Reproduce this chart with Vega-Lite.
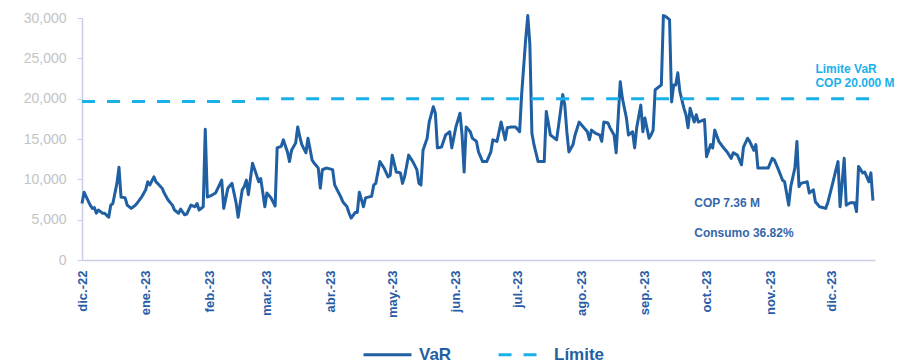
{
  "$schema": "https://vega.github.io/schema/vega-lite/v6.json",
  "width": 793,
  "height": 242,
  "autosize": "none",
  "padding": {"left": 82, "top": 18, "right": 41, "bottom": 104},
  "background": "white",
  "config": {"view": {"stroke": null}, "font": "Liberation Sans"},
  "datasets": {
    "serie": [
      {"fecha":"2022-12-01","valor":7000,"serie":"VaR"},
      {"fecha":"2022-12-02","valor":8400,"serie":"VaR"},
      {"fecha":"2022-12-05","valor":6800,"serie":"VaR"},
      {"fecha":"2022-12-06","valor":6400,"serie":"VaR"},
      {"fecha":"2022-12-07","valor":6500,"serie":"VaR"},
      {"fecha":"2022-12-08","valor":5800,"serie":"VaR"},
      {"fecha":"2022-12-09","valor":6200,"serie":"VaR"},
      {"fecha":"2022-12-11","valor":5800,"serie":"VaR"},
      {"fecha":"2022-12-12","valor":5800,"serie":"VaR"},
      {"fecha":"2022-12-14","valor":5300,"serie":"VaR"},
      {"fecha":"2022-12-15","valor":6800,"serie":"VaR"},
      {"fecha":"2022-12-16","valor":7000,"serie":"VaR"},
      {"fecha":"2022-12-18","valor":9500,"serie":"VaR"},
      {"fecha":"2022-12-19","valor":11500,"serie":"VaR"},
      {"fecha":"2022-12-20","valor":7800,"serie":"VaR"},
      {"fecha":"2022-12-22","valor":7700,"serie":"VaR"},
      {"fecha":"2022-12-23","valor":6800,"serie":"VaR"},
      {"fecha":"2022-12-25","valor":6400,"serie":"VaR"},
      {"fecha":"2022-12-27","valor":6800,"serie":"VaR"},
      {"fecha":"2022-12-28","valor":7100,"serie":"VaR"},
      {"fecha":"2022-12-30","valor":7800,"serie":"VaR"},
      {"fecha":"2023-01-01","valor":8700,"serie":"VaR"},
      {"fecha":"2023-01-02","valor":9700,"serie":"VaR"},
      {"fecha":"2023-01-03","valor":9300,"serie":"VaR"},
      {"fecha":"2023-01-05","valor":10300,"serie":"VaR"},
      {"fecha":"2023-01-06","valor":9700,"serie":"VaR"},
      {"fecha":"2023-01-09","valor":8900,"serie":"VaR"},
      {"fecha":"2023-01-10","valor":8300,"serie":"VaR"},
      {"fecha":"2023-01-12","valor":7400,"serie":"VaR"},
      {"fecha":"2023-01-14","valor":6800,"serie":"VaR"},
      {"fecha":"2023-01-15","valor":6200,"serie":"VaR"},
      {"fecha":"2023-01-17","valor":5800,"serie":"VaR"},
      {"fecha":"2023-01-18","valor":6300,"serie":"VaR"},
      {"fecha":"2023-01-20","valor":5600,"serie":"VaR"},
      {"fecha":"2023-01-21","valor":5700,"serie":"VaR"},
      {"fecha":"2023-01-23","valor":6800,"serie":"VaR"},
      {"fecha":"2023-01-25","valor":6600,"serie":"VaR"},
      {"fecha":"2023-01-26","valor":7000,"serie":"VaR"},
      {"fecha":"2023-01-27","valor":6200,"serie":"VaR"},
      {"fecha":"2023-01-29","valor":6600,"serie":"VaR"},
      {"fecha":"2023-01-30","valor":16200,"serie":"VaR"},
      {"fecha":"2023-01-31","valor":7800,"serie":"VaR"},
      {"fecha":"2023-02-02","valor":8000,"serie":"VaR"},
      {"fecha":"2023-02-04","valor":8300,"serie":"VaR"},
      {"fecha":"2023-02-07","valor":9900,"serie":"VaR"},
      {"fecha":"2023-02-08","valor":6400,"serie":"VaR"},
      {"fecha":"2023-02-10","valor":8900,"serie":"VaR"},
      {"fecha":"2023-02-12","valor":9500,"serie":"VaR"},
      {"fecha":"2023-02-14","valor":7100,"serie":"VaR"},
      {"fecha":"2023-02-15","valor":5300,"serie":"VaR"},
      {"fecha":"2023-02-17","valor":8700,"serie":"VaR"},
      {"fecha":"2023-02-18","valor":9100,"serie":"VaR"},
      {"fecha":"2023-02-19","valor":9900,"serie":"VaR"},
      {"fecha":"2023-02-20","valor":8100,"serie":"VaR"},
      {"fecha":"2023-02-21","valor":10100,"serie":"VaR"},
      {"fecha":"2023-02-22","valor":12000,"serie":"VaR"},
      {"fecha":"2023-02-24","valor":10500,"serie":"VaR"},
      {"fecha":"2023-02-25","valor":9700,"serie":"VaR"},
      {"fecha":"2023-02-26","valor":10100,"serie":"VaR"},
      {"fecha":"2023-02-28","valor":6600,"serie":"VaR"},
      {"fecha":"2023-03-01","valor":8300,"serie":"VaR"},
      {"fecha":"2023-03-03","valor":7700,"serie":"VaR"},
      {"fecha":"2023-03-05","valor":6700,"serie":"VaR"},
      {"fecha":"2023-03-06","valor":13900,"serie":"VaR"},
      {"fecha":"2023-03-08","valor":14100,"serie":"VaR"},
      {"fecha":"2023-03-09","valor":14900,"serie":"VaR"},
      {"fecha":"2023-03-11","valor":13400,"serie":"VaR"},
      {"fecha":"2023-03-12","valor":12200,"serie":"VaR"},
      {"fecha":"2023-03-13","valor":13600,"serie":"VaR"},
      {"fecha":"2023-03-15","valor":14500,"serie":"VaR"},
      {"fecha":"2023-03-16","valor":16500,"serie":"VaR"},
      {"fecha":"2023-03-17","valor":15300,"serie":"VaR"},
      {"fecha":"2023-03-18","valor":14300,"serie":"VaR"},
      {"fecha":"2023-03-20","valor":13300,"serie":"VaR"},
      {"fecha":"2023-03-21","valor":15100,"serie":"VaR"},
      {"fecha":"2023-03-23","valor":12400,"serie":"VaR"},
      {"fecha":"2023-03-24","valor":12000,"serie":"VaR"},
      {"fecha":"2023-03-26","valor":11400,"serie":"VaR"},
      {"fecha":"2023-03-27","valor":8900,"serie":"VaR"},
      {"fecha":"2023-03-28","valor":11200,"serie":"VaR"},
      {"fecha":"2023-03-30","valor":11400,"serie":"VaR"},
      {"fecha":"2023-04-02","valor":11200,"serie":"VaR"},
      {"fecha":"2023-04-03","valor":9300,"serie":"VaR"},
      {"fecha":"2023-04-06","valor":7800,"serie":"VaR"},
      {"fecha":"2023-04-07","valor":7200,"serie":"VaR"},
      {"fecha":"2023-04-09","valor":6600,"serie":"VaR"},
      {"fecha":"2023-04-10","valor":5800,"serie":"VaR"},
      {"fecha":"2023-04-11","valor":5200,"serie":"VaR"},
      {"fecha":"2023-04-13","valor":5900,"serie":"VaR"},
      {"fecha":"2023-04-14","valor":5900,"serie":"VaR"},
      {"fecha":"2023-04-15","valor":8400,"serie":"VaR"},
      {"fecha":"2023-04-17","valor":6600,"serie":"VaR"},
      {"fecha":"2023-04-18","valor":7700,"serie":"VaR"},
      {"fecha":"2023-04-21","valor":7900,"serie":"VaR"},
      {"fecha":"2023-04-22","valor":9300,"serie":"VaR"},
      {"fecha":"2023-04-23","valor":9500,"serie":"VaR"},
      {"fecha":"2023-04-25","valor":12200,"serie":"VaR"},
      {"fecha":"2023-04-27","valor":11400,"serie":"VaR"},
      {"fecha":"2023-04-29","valor":10300,"serie":"VaR"},
      {"fecha":"2023-04-30","valor":10500,"serie":"VaR"},
      {"fecha":"2023-05-01","valor":13000,"serie":"VaR"},
      {"fecha":"2023-05-03","valor":10900,"serie":"VaR"},
      {"fecha":"2023-05-05","valor":10800,"serie":"VaR"},
      {"fecha":"2023-05-06","valor":9500,"serie":"VaR"},
      {"fecha":"2023-05-07","valor":10300,"serie":"VaR"},
      {"fecha":"2023-05-09","valor":13000,"serie":"VaR"},
      {"fecha":"2023-05-11","valor":12200,"serie":"VaR"},
      {"fecha":"2023-05-13","valor":11200,"serie":"VaR"},
      {"fecha":"2023-05-14","valor":9500,"serie":"VaR"},
      {"fecha":"2023-05-15","valor":9300,"serie":"VaR"},
      {"fecha":"2023-05-16","valor":13600,"serie":"VaR"},
      {"fecha":"2023-05-18","valor":15100,"serie":"VaR"},
      {"fecha":"2023-05-19","valor":17100,"serie":"VaR"},
      {"fecha":"2023-05-21","valor":19000,"serie":"VaR"},
      {"fecha":"2023-05-22","valor":18200,"serie":"VaR"},
      {"fecha":"2023-05-23","valor":13900,"serie":"VaR"},
      {"fecha":"2023-05-25","valor":14000,"serie":"VaR"},
      {"fecha":"2023-05-27","valor":15500,"serie":"VaR"},
      {"fecha":"2023-05-29","valor":15900,"serie":"VaR"},
      {"fecha":"2023-05-30","valor":13900,"serie":"VaR"},
      {"fecha":"2023-06-01","valor":16500,"serie":"VaR"},
      {"fecha":"2023-06-03","valor":18200,"serie":"VaR"},
      {"fecha":"2023-06-04","valor":15500,"serie":"VaR"},
      {"fecha":"2023-06-05","valor":10900,"serie":"VaR"},
      {"fecha":"2023-06-06","valor":16500,"serie":"VaR"},
      {"fecha":"2023-06-08","valor":15900,"serie":"VaR"},
      {"fecha":"2023-06-09","valor":15100,"serie":"VaR"},
      {"fecha":"2023-06-11","valor":14700,"serie":"VaR"},
      {"fecha":"2023-06-12","valor":13400,"serie":"VaR"},
      {"fecha":"2023-06-14","valor":12200,"serie":"VaR"},
      {"fecha":"2023-06-16","valor":12200,"serie":"VaR"},
      {"fecha":"2023-06-18","valor":13400,"serie":"VaR"},
      {"fecha":"2023-06-19","valor":14900,"serie":"VaR"},
      {"fecha":"2023-06-21","valor":14700,"serie":"VaR"},
      {"fecha":"2023-06-23","valor":17100,"serie":"VaR"},
      {"fecha":"2023-06-25","valor":14900,"serie":"VaR"},
      {"fecha":"2023-06-26","valor":16400,"serie":"VaR"},
      {"fecha":"2023-06-28","valor":16500,"serie":"VaR"},
      {"fecha":"2023-06-30","valor":16500,"serie":"VaR"},
      {"fecha":"2023-07-02","valor":15900,"serie":"VaR"},
      {"fecha":"2023-07-03","valor":20500,"serie":"VaR"},
      {"fecha":"2023-07-04","valor":24000,"serie":"VaR"},
      {"fecha":"2023-07-05","valor":27500,"serie":"VaR"},
      {"fecha":"2023-07-06","valor":30300,"serie":"VaR"},
      {"fecha":"2023-07-07","valor":26700,"serie":"VaR"},
      {"fecha":"2023-07-08","valor":15700,"serie":"VaR"},
      {"fecha":"2023-07-09","valor":14300,"serie":"VaR"},
      {"fecha":"2023-07-11","valor":12200,"serie":"VaR"},
      {"fecha":"2023-07-14","valor":12200,"serie":"VaR"},
      {"fecha":"2023-07-15","valor":18400,"serie":"VaR"},
      {"fecha":"2023-07-17","valor":15500,"serie":"VaR"},
      {"fecha":"2023-07-19","valor":15100,"serie":"VaR"},
      {"fecha":"2023-07-20","valor":14900,"serie":"VaR"},
      {"fecha":"2023-07-21","valor":16700,"serie":"VaR"},
      {"fecha":"2023-07-23","valor":20500,"serie":"VaR"},
      {"fecha":"2023-07-24","valor":19200,"serie":"VaR"},
      {"fecha":"2023-07-25","valor":15900,"serie":"VaR"},
      {"fecha":"2023-07-26","valor":13400,"serie":"VaR"},
      {"fecha":"2023-07-28","valor":14300,"serie":"VaR"},
      {"fecha":"2023-07-29","valor":15500,"serie":"VaR"},
      {"fecha":"2023-07-31","valor":17100,"serie":"VaR"},
      {"fecha":"2023-08-02","valor":16500,"serie":"VaR"},
      {"fecha":"2023-08-04","valor":15900,"serie":"VaR"},
      {"fecha":"2023-08-05","valor":14900,"serie":"VaR"},
      {"fecha":"2023-08-06","valor":16100,"serie":"VaR"},
      {"fecha":"2023-08-08","valor":15700,"serie":"VaR"},
      {"fecha":"2023-08-10","valor":15500,"serie":"VaR"},
      {"fecha":"2023-08-11","valor":14700,"serie":"VaR"},
      {"fecha":"2023-08-12","valor":17100,"serie":"VaR"},
      {"fecha":"2023-08-14","valor":17000,"serie":"VaR"},
      {"fecha":"2023-08-15","valor":16400,"serie":"VaR"},
      {"fecha":"2023-08-17","valor":15500,"serie":"VaR"},
      {"fecha":"2023-08-18","valor":13300,"serie":"VaR"},
      {"fecha":"2023-08-20","valor":22100,"serie":"VaR"},
      {"fecha":"2023-08-21","valor":20100,"serie":"VaR"},
      {"fecha":"2023-08-23","valor":17600,"serie":"VaR"},
      {"fecha":"2023-08-24","valor":15500,"serie":"VaR"},
      {"fecha":"2023-08-26","valor":15900,"serie":"VaR"},
      {"fecha":"2023-08-27","valor":13900,"serie":"VaR"},
      {"fecha":"2023-08-28","valor":16400,"serie":"VaR"},
      {"fecha":"2023-08-30","valor":19200,"serie":"VaR"},
      {"fecha":"2023-08-31","valor":15900,"serie":"VaR"},
      {"fecha":"2023-09-01","valor":17600,"serie":"VaR"},
      {"fecha":"2023-09-03","valor":15100,"serie":"VaR"},
      {"fecha":"2023-09-04","valor":15500,"serie":"VaR"},
      {"fecha":"2023-09-05","valor":16100,"serie":"VaR"},
      {"fecha":"2023-09-06","valor":21100,"serie":"VaR"},
      {"fecha":"2023-09-08","valor":21500,"serie":"VaR"},
      {"fecha":"2023-09-09","valor":21700,"serie":"VaR"},
      {"fecha":"2023-09-10","valor":30300,"serie":"VaR"},
      {"fecha":"2023-09-11","valor":30200,"serie":"VaR"},
      {"fecha":"2023-09-13","valor":29800,"serie":"VaR"},
      {"fecha":"2023-09-14","valor":19600,"serie":"VaR"},
      {"fecha":"2023-09-15","valor":21700,"serie":"VaR"},
      {"fecha":"2023-09-16","valor":21700,"serie":"VaR"},
      {"fecha":"2023-09-17","valor":23200,"serie":"VaR"},
      {"fecha":"2023-09-18","valor":20900,"serie":"VaR"},
      {"fecha":"2023-09-20","valor":18800,"serie":"VaR"},
      {"fecha":"2023-09-21","valor":18000,"serie":"VaR"},
      {"fecha":"2023-09-22","valor":16400,"serie":"VaR"},
      {"fecha":"2023-09-23","valor":18800,"serie":"VaR"},
      {"fecha":"2023-09-25","valor":17100,"serie":"VaR"},
      {"fecha":"2023-09-26","valor":18000,"serie":"VaR"},
      {"fecha":"2023-09-27","valor":17100,"serie":"VaR"},
      {"fecha":"2023-09-30","valor":17400,"serie":"VaR"},
      {"fecha":"2023-10-01","valor":12800,"serie":"VaR"},
      {"fecha":"2023-10-03","valor":14300,"serie":"VaR"},
      {"fecha":"2023-10-04","valor":13900,"serie":"VaR"},
      {"fecha":"2023-10-05","valor":16100,"serie":"VaR"},
      {"fecha":"2023-10-07","valor":14700,"serie":"VaR"},
      {"fecha":"2023-10-09","valor":14000,"serie":"VaR"},
      {"fecha":"2023-10-11","valor":13400,"serie":"VaR"},
      {"fecha":"2023-10-13","valor":12600,"serie":"VaR"},
      {"fecha":"2023-10-14","valor":13300,"serie":"VaR"},
      {"fecha":"2023-10-16","valor":13000,"serie":"VaR"},
      {"fecha":"2023-10-18","valor":11800,"serie":"VaR"},
      {"fecha":"2023-10-19","valor":14000,"serie":"VaR"},
      {"fecha":"2023-10-21","valor":15100,"serie":"VaR"},
      {"fecha":"2023-10-22","valor":14700,"serie":"VaR"},
      {"fecha":"2023-10-24","valor":13600,"serie":"VaR"},
      {"fecha":"2023-10-25","valor":14300,"serie":"VaR"},
      {"fecha":"2023-10-26","valor":11400,"serie":"VaR"},
      {"fecha":"2023-10-28","valor":11400,"serie":"VaR"},
      {"fecha":"2023-10-31","valor":11400,"serie":"VaR"},
      {"fecha":"2023-11-02","valor":12600,"serie":"VaR"},
      {"fecha":"2023-11-03","valor":12400,"serie":"VaR"},
      {"fecha":"2023-11-05","valor":11200,"serie":"VaR"},
      {"fecha":"2023-11-07","valor":9900,"serie":"VaR"},
      {"fecha":"2023-11-08","valor":9700,"serie":"VaR"},
      {"fecha":"2023-11-10","valor":6800,"serie":"VaR"},
      {"fecha":"2023-11-11","valor":9100,"serie":"VaR"},
      {"fecha":"2023-11-13","valor":11400,"serie":"VaR"},
      {"fecha":"2023-11-14","valor":14700,"serie":"VaR"},
      {"fecha":"2023-11-15","valor":9100,"serie":"VaR"},
      {"fecha":"2023-11-16","valor":9500,"serie":"VaR"},
      {"fecha":"2023-11-19","valor":9700,"serie":"VaR"},
      {"fecha":"2023-11-20","valor":8300,"serie":"VaR"},
      {"fecha":"2023-11-22","valor":8700,"serie":"VaR"},
      {"fecha":"2023-11-23","valor":7200,"serie":"VaR"},
      {"fecha":"2023-11-25","valor":6600,"serie":"VaR"},
      {"fecha":"2023-11-28","valor":6400,"serie":"VaR"},
      {"fecha":"2023-11-29","valor":7100,"serie":"VaR"},
      {"fecha":"2023-12-01","valor":9100,"serie":"VaR"},
      {"fecha":"2023-12-03","valor":11200,"serie":"VaR"},
      {"fecha":"2023-12-04","valor":12200,"serie":"VaR"},
      {"fecha":"2023-12-05","valor":6600,"serie":"VaR"},
      {"fecha":"2023-12-07","valor":12600,"serie":"VaR"},
      {"fecha":"2023-12-08","valor":6800,"serie":"VaR"},
      {"fecha":"2023-12-10","valor":7100,"serie":"VaR"},
      {"fecha":"2023-12-12","valor":7100,"serie":"VaR"},
      {"fecha":"2023-12-13","valor":6000,"serie":"VaR"},
      {"fecha":"2023-12-14","valor":11600,"serie":"VaR"},
      {"fecha":"2023-12-16","valor":10800,"serie":"VaR"},
      {"fecha":"2023-12-17","valor":10900,"serie":"VaR"},
      {"fecha":"2023-12-19","valor":9700,"serie":"VaR"},
      {"fecha":"2023-12-20","valor":10800,"serie":"VaR"},
      {"fecha":"2023-12-21","valor":7360,"serie":"VaR"},
      {"fecha":"2022-12-01","valor":19650,"serie":"Límite"},
      {"fecha":"2023-02-20","valor":19650,"serie":"Límite"},
      {"fecha":"2023-02-22","valor":20000,"serie":"Límite"},
      {"fecha":"2023-12-21","valor":20000,"serie":"Límite"}
    ],
    "notas": [
      {"fecha":"2023-11-23","valor":23680,"texto":"Limite VaR","grupo":"limite"},
      {"fecha":"2023-11-23","valor":21950,"texto":"COP 20.000 M","grupo":"limite"},
      {"fecha":"2023-09-25","valor":7070,"texto":"COP 7.36 M","grupo":"var"},
      {"fecha":"2023-09-25","valor":3350,"texto":"Consumo 36.82%","grupo":"var"}
    ]
  },
  "layer": [
    {
      "data": {"name": "serie"},
      "mark": {"type": "line", "strokeWidth": 3, "clip": false, "strokeJoin": "round"},
      "encoding": {
        "x": {
          "field": "fecha", "type": "temporal",
          "scale": {"type": "utc", "domain": [{"year": 2022, "month": 12, "date": 1, "utc": true}, {"year": 2023, "month": 12, "date": 22, "utc": true}]},
          "axis": {
            "title": null,
            "values": [
              {"year": 2022, "month": 12, "date": 1, "utc": true},
              {"year": 2023, "month": 1, "date": 1, "utc": true},
              {"year": 2023, "month": 2, "date": 1, "utc": true},
              {"year": 2023, "month": 3, "date": 1, "utc": true},
              {"year": 2023, "month": 4, "date": 1, "utc": true},
              {"year": 2023, "month": 5, "date": 1, "utc": true},
              {"year": 2023, "month": 6, "date": 1, "utc": true},
              {"year": 2023, "month": 7, "date": 1, "utc": true},
              {"year": 2023, "month": 8, "date": 1, "utc": true},
              {"year": 2023, "month": 9, "date": 1, "utc": true},
              {"year": 2023, "month": 10, "date": 1, "utc": true},
              {"year": 2023, "month": 11, "date": 1, "utc": true},
              {"year": 2023, "month": 12, "date": 1, "utc": true}
            ],
            "labelExpr": "['ene.','feb.','mar.','abr.','may.','jun.','jul.','ago.','sep.','oct.','nov.','dic.'][utcmonth(datum.value)] + '-' + utcFormat(datum.value, '%y')",
            "labelAngle": -90,
            "labelAlign": "right",
            "labelBaseline": "middle",
            "labelPadding": 10,
            "labelFontSize": 13,
            "labelFontWeight": "bold",
            "labelColor": "#2A5CA6",
            "labelFont": "Liberation Sans",
            "labelOverlap": false,
            "labelFlush": false,
            "ticks": false,
            "tickSize": 0,
            "grid": false,
            "domainColor": "#C9CDE8",
            "domainWidth": 1.5
          }
        },
        "y": {
          "field": "valor", "type": "quantitative",
          "scale": {"domain": [0, 30000], "nice": false},
          "axis": {
            "title": null,
            "values": [0, 5000, 10000, 15000, 20000, 25000, 30000],
            "format": ",d",
            "labelFontSize": 14,
            "labelColor": "#C4C4C4",
            "labelFont": "Liberation Sans",
            "labelPadding": 11,
            "tickSize": 5,
            "tickColor": "#C9CDE8",
            "domainColor": "#C9CDE8",
            "domainWidth": 1.5,
            "grid": false
          }
        },
        "color": {
          "field": "serie", "type": "nominal",
          "scale": {"domain": ["VaR", "Límite"], "range": ["#1F5FA2", "#1AB0EA"]},
          "legend": {
            "title": null,
            "orient": "none",
            "direction": "horizontal",
            "legendX": 280,
            "legendY": 311,
            "symbolType": "stroke",
            "symbolSize": 2300,
            "symbolStrokeWidth": 3,
            "labelFontSize": 17,
            "labelFontWeight": "bold",
            "labelColor": "#1F5FA2",
            "labelFont": "Liberation Sans",
            "labelOffset": 6,
            "columnPadding": 40
          }
        },
        "strokeDash": {
          "field": "serie", "type": "nominal",
          "scale": {"domain": ["VaR", "Límite"], "range": [[1, 0], [13, 12]]},
          "legend": {
            "title": null,
            "orient": "none",
            "direction": "horizontal",
            "legendX": 280,
            "legendY": 311,
            "symbolType": "stroke",
            "symbolSize": 2300,
            "symbolStrokeWidth": 3,
            "labelFontSize": 17,
            "labelFontWeight": "bold",
            "labelColor": "#1F5FA2",
            "labelFont": "Liberation Sans",
            "labelOffset": 6,
            "columnPadding": 40
          }
        }
      }
    },
    {
      "data": {"name": "notas"},
      "transform": [{"filter": "datum.grupo == 'limite'"}],
      "mark": {"type": "text", "align": "left", "baseline": "middle", "fontSize": 12, "fontWeight": "bold", "color": "#1AB0EA", "font": "Liberation Sans", "clip": false},
      "encoding": {
        "x": {"field": "fecha", "type": "temporal"},
        "y": {"field": "valor", "type": "quantitative"},
        "text": {"field": "texto"}
      }
    },
    {
      "data": {"name": "notas"},
      "transform": [{"filter": "datum.grupo == 'var'"}],
      "mark": {"type": "text", "align": "left", "baseline": "middle", "fontSize": 12, "fontWeight": "bold", "color": "#3567AA", "font": "Liberation Sans", "clip": false},
      "encoding": {
        "x": {"field": "fecha", "type": "temporal"},
        "y": {"field": "valor", "type": "quantitative"},
        "text": {"field": "texto"}
      }
    }
  ]
}
